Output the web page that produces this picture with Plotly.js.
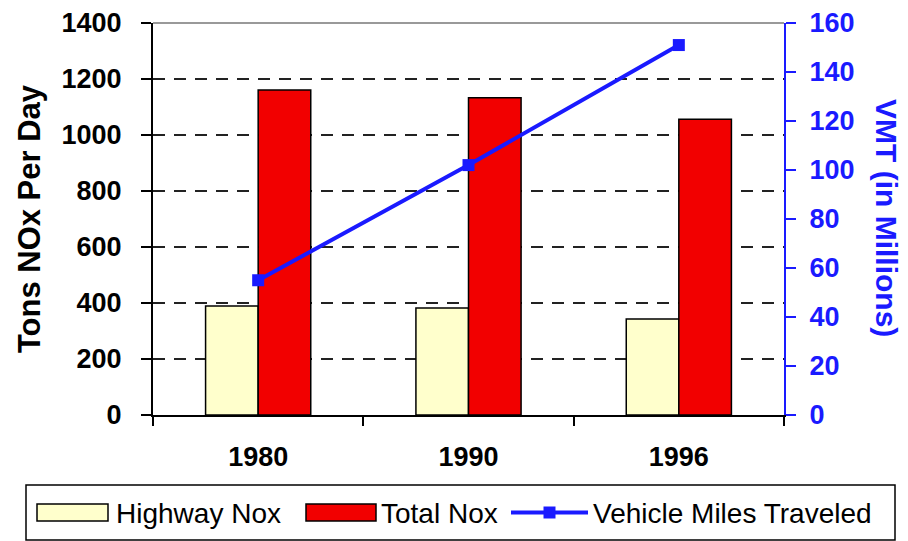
<!DOCTYPE html>
<html>
<head>
<meta charset="utf-8">
<script src="https://cdn.plot.ly/plotly-3.0.1.min.js"></script>
<style>html,body{margin:0;padding:0;background:#fff;}#chart{width:908px;height:541px;}</style>
</head>
<body>
<div id="chart"></div>
<script>
const years = ["1980", "1990", "1996"];
const highwayNox = [389, 382, 343];
const totalNox = [1161, 1133, 1056];
const vmt = [55, 102, 151];
const leftTicks = [0, 200, 400, 600, 800, 1000, 1200, 1400];
const rightTicks = [0, 20, 40, 60, 80, 100, 120, 140, 160];
const seriesNames = ["Highway Nox", "Total Nox", "Vehicle Miles Traveled"];

const FONT = "Liberation Sans, Arial, sans-serif";
const BLUE = "#1A1AFF";
const YELLOW = "#FFFFCC";
const RED = "#F20000";

const traces = [
  {
    type: "bar", name: seriesNames[0], x: years, y: highwayNox,
    marker: {color: YELLOW, line: {color: "#000", width: 1.5}},
    hoverinfo: "skip"
  },
  {
    type: "bar", name: seriesNames[1], x: years, y: totalNox,
    marker: {color: RED, line: {color: "#000", width: 1.5}},
    hoverinfo: "skip"
  },
  {
    type: "scatter", mode: "lines+markers", name: seriesNames[2],
    x: years, y: vmt, yaxis: "y2",
    line: {color: BLUE, width: 4},
    marker: {symbol: "square", size: 12, color: BLUE},
    hoverinfo: "skip"
  }
];

// plot area in pixels: x 153..784, y 23..415
const PL = 153, PW = 631, PB = 415, PH = 392;
const px = v => (v - PL) / PW;
const py = v => (PB - v) / PH;

const legendShapes = [
  {type: "rect", xref: "paper", yref: "paper", x0: px(26), x1: px(895), y0: py(540), y1: py(485),
   line: {color: "#000", width: 1.5}, fillcolor: "#fff", layer: "above"},
  {type: "rect", xref: "paper", yref: "paper", x0: px(37), x1: px(108), y0: py(521), y1: py(504),
   line: {color: "#000", width: 1.5}, fillcolor: YELLOW, layer: "above"},
  {type: "rect", xref: "paper", yref: "paper", x0: px(306), x1: px(376), y0: py(521), y1: py(504),
   line: {color: "#000", width: 1.5}, fillcolor: RED, layer: "above"},
  {type: "line", xref: "paper", yref: "paper", x0: px(511), x1: px(588), y0: py(512.5), y1: py(512.5),
   line: {color: BLUE, width: 4}, layer: "above"},
  {type: "rect", xref: "paper", yref: "paper", x0: px(543.5), x1: px(555.5), y0: py(518.5), y1: py(506.5),
   line: {color: BLUE, width: 0}, fillcolor: BLUE, layer: "above"}
];

const legendTexts = [
  {x: 114, name: seriesNames[0]},
  {x: 379, name: seriesNames[1]},
  {x: 591, name: seriesNames[2]}
].map(o => ({
  text: o.name, xref: "paper", yref: "paper", x: px(o.x), y: py(513),
  xanchor: "left", yanchor: "middle", showarrow: false,
  font: {family: FONT, size: 28, color: "#000"}
}));

const layout = {
  width: 908, height: 541,
  margin: {l: 153, r: 124, t: 23, b: 126, pad: 0},
  paper_bgcolor: "#fff", plot_bgcolor: "#fff",
  font: {family: FONT, color: "#000"},
  barmode: "group", bargap: 0.5, bargroupgap: 0,
  showlegend: false,
  xaxis: {
    type: "category", range: [-0.5, 2.5],
    tickson: "boundaries", ticks: "outside", ticklen: 9, tickwidth: 2, tickcolor: "#000",
    showline: true, linecolor: "#000", linewidth: 2,
    showgrid: false, zeroline: false,
    tickfont: {family: FONT, size: 27, color: "#000", weight: "bold"},
    ticklabelstandoff: 17
  },
  yaxis: {
    range: [0, 1400], tickvals: leftTicks, ticktext: leftTicks.map(String),
    ticks: "outside", ticklen: 10, tickwidth: 2, tickcolor: "#000",
    showline: true, linecolor: "#000", linewidth: 2,
    showgrid: true, gridcolor: "#222", gridwidth: 2, griddash: "12px,9px",
    zeroline: false,
    tickfont: {family: FONT, size: 27, color: "#000", weight: "bold"},
    ticklabelstandoff: 14,
    title: {text: "Tons NOx Per Day", font: {family: FONT, size: 31, color: "#000", weight: "bold"}, standoff: 12}
  },
  yaxis2: {
    range: [0, 160], tickvals: rightTicks, ticktext: rightTicks.map(String),
    overlaying: "y", side: "right",
    ticks: "outside", ticklen: 10, tickwidth: 2, tickcolor: BLUE,
    showline: true, linecolor: BLUE, linewidth: 2,
    showgrid: false, zeroline: false,
    tickfont: {family: FONT, size: 27, color: BLUE, weight: "bold"},
    ticklabelstandoff: 8
  },
  shapes: [
    {type: "line", xref: "paper", yref: "paper", x0: 0, x1: 1, y0: 1, y1: 1,
     line: {color: "#999", width: 2}, layer: "above"}
  ].concat(legendShapes),
  annotations: [
    {text: "VMT (in Millions)", xref: "paper", yref: "paper", x: px(887), y: py(218),
     xanchor: "center", yanchor: "middle", showarrow: false, textangle: 90,
     font: {family: FONT, size: 30, color: BLUE, weight: "bold"}}
  ].concat(legendTexts)
};

Plotly.newPlot("chart", traces, layout, {staticPlot: true, displayModeBar: false});
</script>
</body>
</html>
